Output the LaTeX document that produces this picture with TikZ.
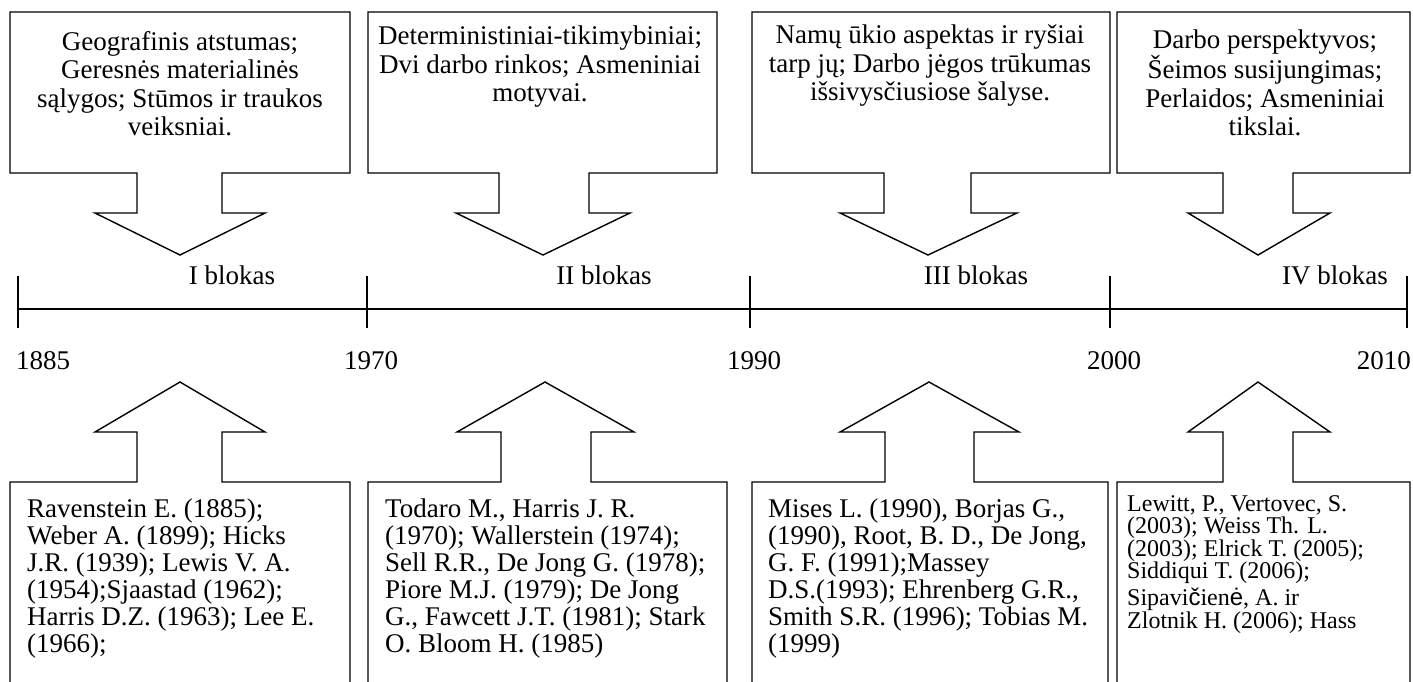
\documentclass[tikz,border=0pt]{standalone}
\usepackage{fontspec}
\setmainfont{Liberation Serif}
\newfontfamily\arialfont{Liberation Sans}
\usetikzlibrary{positioning}

\begin{document}
\begin{tikzpicture}[x=1pt,y=-1pt]
			\tikzstyle{callout}=[draw,line width=1.4pt,line join=miter]
			\tikzstyle{toptext}=[anchor=north,inner sep=0pt,align=center,font=\fontsize{27}{28.5}\selectfont]
			\tikzstyle{bottext}=[anchor=north west,inner sep=0pt,align=left,font=\fontsize{27}{27}\selectfont]
			\tikzstyle{smalltext}=[anchor=north west,inner sep=0pt,align=left,font=\fontsize{24}{22.6}\selectfont]
			\tikzstyle{year}=[inner sep=0pt,font=\fontsize{27}{30}\selectfont]
			\tikzstyle{axis}=[draw,line width=1.4pt]
			
			\useasboundingbox (0,0) rectangle (1413,681);
			\clip (0,0) rectangle (1413,681);
			
			% upper callouts
			\draw[callout] (10,12) -- (350,12) -- (350,173) -- (222,173) -- (222,213) -- (265,213) -- (180,255) -- (95,213) -- (137,213) -- (137,173) -- (10,173) -- cycle;
			\draw[callout] (368,12) -- (717,12) -- (717,173) -- (589,173) -- (589,213) -- (630,213) -- (543,255) -- (456,213) -- (499,213) -- (499,173) -- (368,173) -- cycle;
			\draw[callout] (752,12) -- (1110,12) -- (1110,173) -- (971,173) -- (971,213) -- (1017,213) -- (928,255) -- (840,213) -- (884,213) -- (884,173) -- (752,173) -- cycle;
			\draw[callout] (1117,12) -- (1410,12) -- (1410,173) -- (1293,173) -- (1293,213) -- (1330,213) -- (1258,255) -- (1188,213) -- (1223,213) -- (1223,173) -- (1117,173) -- cycle;
			
			\node[toptext] (motiv1) at (180,31) {Geografinis atstumas;\\Geresnės materialinės\\sąlygos; Stūmos ir traukos\\veiksniai.};
			\node[toptext] (motiv2) at (540,26) {Deterministiniai-tikimybiniai;\\Dvi darbo rinkos; Asmeniniai\\motyvai.};
			\node[toptext] (motiv3) at (930,25) {Namų ūkio aspektas ir ryšiai\\tarp jų; Darbo jėgos trūkumas\\išsivysčiusiose šalyse.};
			\node[toptext] (motiv4) at (1265,30) {Darbo perspektyvos;\\Šeimos susijungimas;\\Perlaidos; Asmeniniai\\tikslai.};
			
			\node[year] (blok1) at (232,275) {I blokas};
			\node[year] (blok2) at (604,275) {II blokas};
			\node[year] (blok3) at (976,275) {III blokas};
			\node[year] (blok4) at (1335,275) {IV blokas};
			
			% time axis
			\coordinate (t1885) at (18,309);
			\coordinate (t1970) at (367,309);
			\coordinate (t1990) at (750,309);
			\coordinate (t2000) at (1110,309);
			\coordinate (t2010) at (1407,309);
			\draw[axis] (t1885) -- (t2010);
			\draw[axis] ([yshift=-19pt]t1885) -- ([yshift=33pt]t1885);
			\draw[axis] ([yshift=-19pt]t1970) -- ([yshift=33pt]t1970);
			\draw[axis] ([yshift=-19pt]t1990) -- ([yshift=33pt]t1990);
			\draw[axis] ([yshift=-19pt]t2000) -- ([yshift=33pt]t2000);
			\draw[axis] ([yshift=-19pt]t2010) -- ([yshift=33pt]t2010);
			
			\node[year,anchor=west] (y1885) at (16,361) {1885};
			\node[year] (y1970) at (371,361) {1970};
			\node[year] (y1990) at (754,361) {1990};
			\node[year] (y2000) at (1114,361) {2000};
			\node[year,anchor=east] (y2010) at (1411,361) {2010};
			
			% lower callouts
			\draw[callout] (10,700) -- (10,482) -- (137,482) -- (137,432) -- (95,432) -- (180,382) -- (265,432) -- (222,432) -- (222,482) -- (350,482) -- (350,700);
			\draw[callout] (368,700) -- (368,482) -- (501,482) -- (501,432) -- (457,432) -- (545,382) -- (634,432) -- (591,432) -- (591,482) -- (727,482) -- (727,700);
			\draw[callout] (752,700) -- (752,482) -- (885,482) -- (885,432) -- (840,432) -- (929,382) -- (1019,432) -- (974,432) -- (974,482) -- (1108,482) -- (1108,700);
			\draw[callout] (1117,700) -- (1117,482) -- (1223,482) -- (1223,432) -- (1188,432) -- (1258,382) -- (1330,432) -- (1293,432) -- (1293,482) -- (1410,482) -- (1410,700);
			
			\node[bottext] (lit1) at (27,499) {Ravenstein E. (1885);\\Weber A. (1899); Hicks\\J.R. (1939); Lewis V. A.\\(1954);Sjaastad (1962);\\Harris D.Z. (1963); Lee E.\\(1966);};
			\node[bottext] (lit2) at (385,499) {Todaro M., Harris J. R.\\(1970); Wallerstein (1974);\\Sell R.R., De Jong G. (1978);\\Piore M.J. (1979); De Jong\\G., Fawcett J.T. (1981); Stark\\O. Bloom H. (1985)};
			\node[bottext] (lit3) at (768,499) {Mises L. (1990), Borjas G.,\\(1990), Root, B. D., De Jong,\\G. F. (1991);Massey\\D.S.(1993); Ehrenberg G.R.,\\Smith S.R. (1996); Tobias M.\\(1999)};
			\node[smalltext] (lit4) at (1127,495) {Lewitt, P., Vertovec, S.\\(2003); Weiss Th. L.\\(2003); Elrick T. (2005);\\Siddiqui T. (2006);\\[4pt]Sipavi{\arialfont č}ien{\arialfont ė}, A. ir\\Zlotnik H. (2006); Hass};
			
			;\end{tikzpicture}
\end{document}
